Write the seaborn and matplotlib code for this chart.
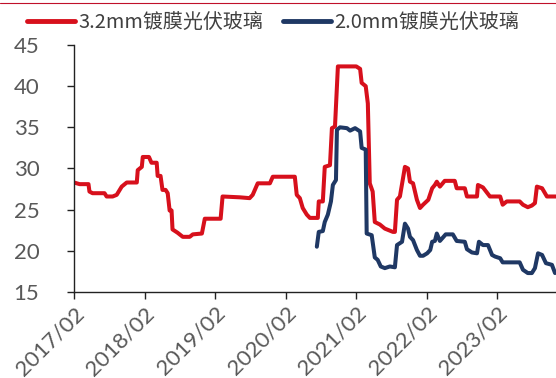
import pandas as pd
import matplotlib
matplotlib.use("Agg")
import matplotlib.pyplot as plt
import matplotlib.dates as mdates
from matplotlib.lines import Line2D
import seaborn as sns

# 3.2mm 镀膜光伏玻璃 价格 (元/平方米)
red_dates = ["2017-02-01", "2017-03-02", "2017-04-17", "2017-04-22", "2017-05-08", "2017-07-09",
             "2017-07-20", "2017-08-20", "2017-09-10", "2017-10-06", "2017-11-01", "2017-12-23",
             "2017-12-28", "2018-01-18", "2018-01-23", "2018-02-24", "2018-03-09", "2018-04-05",
             "2018-04-10", "2018-04-25", "2018-05-05", "2018-05-21", "2018-06-01", "2018-06-11",
             "2018-06-21", "2018-06-26", "2018-07-22", "2018-08-18", "2018-09-23", "2018-10-09",
             "2018-11-25", "2018-12-10", "2019-03-02", "2019-03-12", "2019-06-09", "2019-07-30",
             "2019-08-15", "2019-09-10", "2019-11-12", "2019-11-27", "2020-03-20", "2020-03-30",
             "2020-04-15", "2020-04-30", "2020-05-21", "2020-06-06", "2020-07-17", "2020-07-22",
             "2020-08-12", "2020-08-22", "2020-09-18", "2020-09-28", "2020-10-14", "2020-10-29",
             "2021-02-01", "2021-02-21", "2021-03-01", "2021-03-22", "2021-04-02", "2021-04-12",
             "2021-04-27", "2021-05-08", "2021-06-03", "2021-06-29", "2021-08-10", "2021-08-20",
             "2021-08-31", "2021-09-15", "2021-10-01", "2021-10-11", "2021-10-27", "2021-11-06",
             "2021-11-22", "2021-12-12", "2021-12-28", "2022-01-13", "2022-02-09", "2022-03-01",
             "2022-03-15", "2022-03-25", "2022-04-10", "2022-05-05", "2022-06-26", "2022-07-06",
             "2022-08-17", "2022-08-28", "2022-10-19", "2022-10-24", "2022-11-19", "2022-12-25",
             "2023-02-16", "2023-03-01", "2023-03-22", "2023-05-28", "2023-06-14", "2023-07-09",
             "2023-07-30", "2023-08-15", "2023-08-25", "2023-09-21", "2023-10-16", "2023-12-02"]
red_vals = [28.3, 28.1, 28.1, 27.2, 27.0, 27.0,
            26.6, 26.6, 26.8, 27.8, 28.3, 28.3,
            29.8, 30.2, 31.4, 31.4, 30.7, 30.7,
            29.1, 29.1, 27.4, 27.4, 27.0, 24.9,
            24.9, 22.6, 22.2, 21.7, 21.7, 22.0,
            22.1, 23.9, 23.9, 26.6, 26.5, 26.4,
            26.8, 28.2, 28.2, 29.0, 29.0, 26.8,
            26.4, 25.2, 24.4, 24.0, 24.0, 26.0,
            26.0, 30.2, 30.4, 34.9, 35.1, 42.4,
            42.4, 42.1, 40.4, 40.0, 37.9, 28.2,
            27.2, 23.5, 23.2, 22.7, 22.3, 22.3,
            26.2, 26.6, 28.8, 30.2, 30.0, 28.4,
            28.2, 26.2, 25.2, 25.6, 26.2, 27.6,
            28.0, 28.4, 27.8, 28.5, 28.5, 27.6,
            27.6, 26.6, 26.6, 28.0, 27.7, 26.6,
            26.6, 25.6, 26.0, 26.0, 25.6, 25.3,
            25.5, 25.8, 27.8, 27.6, 26.6, 26.6]

# 2.0mm 镀膜光伏玻璃
blue_dates = ["2020-07-12", "2020-07-22", "2020-08-12", "2020-08-22", "2020-09-07", "2020-09-23",
              "2020-10-03", "2020-10-19", "2020-10-24", "2020-11-09", "2020-12-15", "2020-12-31",
              "2021-01-26", "2021-02-21", "2021-03-01", "2021-03-22", "2021-03-27", "2021-04-22",
              "2021-05-08", "2021-05-23", "2021-06-08", "2021-06-29", "2021-07-25", "2021-08-20",
              "2021-08-31", "2021-09-26", "2021-10-11", "2021-10-27", "2021-11-06", "2021-11-22",
              "2021-12-12", "2021-12-28", "2022-01-13", "2022-02-03", "2022-02-19", "2022-03-01",
              "2022-03-15", "2022-03-25", "2022-04-10", "2022-05-10", "2022-06-16", "2022-07-06",
              "2022-08-17", "2022-08-28", "2022-09-23", "2022-10-19", "2022-10-29", "2022-11-19",
              "2022-12-15", "2023-01-05", "2023-01-21", "2023-02-16", "2023-03-01", "2023-05-28",
              "2023-06-14", "2023-07-09", "2023-07-30", "2023-08-15", "2023-08-31", "2023-09-21",
              "2023-10-11", "2023-11-11", "2023-11-27"]
blue_vals = [20.5, 22.3, 22.4, 23.5, 24.4, 26.0,
             28.0, 28.6, 34.7, 35.0, 34.9, 34.6,
             34.9, 34.5, 32.5, 32.3, 22.1, 21.9,
             19.2, 18.9, 18.1, 17.9, 18.1, 18.0,
             20.7, 21.1, 23.3, 22.7, 21.7, 21.3,
             20.1, 19.4, 19.4, 19.7, 20.1, 21.1,
             21.2, 22.1, 21.2, 22.0, 22.0, 21.2,
             21.1, 20.2, 19.8, 19.7, 21.1, 20.7,
             20.7, 19.5, 19.3, 19.1, 18.6, 18.6,
             17.7, 17.3, 17.3, 17.9, 19.7, 19.5,
             18.5, 18.3, 17.3]

series_names = ["3.2mm镀膜光伏玻璃", "2.0mm镀膜光伏玻璃"]
colors = ["#D7101C", "#1F3864"]
y_ticks = [15, 20, 25, 30, 35, 40, 45]
x_ticks = ["2017-02-01", "2018-02-01", "2019-02-01", "2020-02-01",
           "2021-02-01", "2022-02-01", "2023-02-01"]

df = pd.concat([
    pd.DataFrame({"date": pd.to_datetime(red_dates), "price": red_vals, "series": series_names[0]}),
    pd.DataFrame({"date": pd.to_datetime(blue_dates), "price": blue_vals, "series": series_names[1]}),
])

sns.set_style("ticks")
plt.rcParams["font.family"] = ["Lato", "DejaVu Sans"]

fig = plt.figure(figsize=(5.56, 3.78), dpi=100)
ax = fig.add_axes([74 / 556, 1 - 292 / 378, 1 - 74 / 556, (292 - 45) / 378])

sns.lineplot(data=df, x="date", y="price", hue="series", hue_order=series_names,
             palette=colors, linewidth=2.9, estimator=None, sort=False, ax=ax, legend=False)

ax.set_xlim(pd.Timestamp("2017-02-01"), pd.Timestamp("2023-12-02"))
ax.set_ylim(15, 45)
ax.set_yticks(y_ticks)
ax.set_xticks(pd.to_datetime(x_ticks))
ax.xaxis.set_major_formatter(mdates.DateFormatter("%Y/%m"))
ax.set_xlabel("")
ax.set_ylabel("")

for s in ["top", "right"]:
    ax.spines[s].set_visible(False)
for s in ["left", "bottom"]:
    ax.spines[s].set_color("#222222")
    ax.spines[s].set_linewidth(1.0)

ax.tick_params(axis="both", direction="out", length=5, width=1.0, color="#222222",
               labelcolor="#595959")
ax.tick_params(axis="y", labelsize=16, pad=20)
ax.tick_params(axis="x", labelsize=16, pad=3)
for lbl in ax.get_xticklabels():
    lbl.set_rotation(45)
    lbl.set_ha("right")
    lbl.set_va("top")
    lbl.set_rotation_mode("anchor")

handles = [Line2D([], [], color=c, linewidth=3.5) for c in colors]
leg = fig.legend(handles, series_names, loc="center left",
                 bbox_to_anchor=(27 / 556, 1 - 22 / 378), ncol=2, frameon=False,
                 handlelength=2.4, handletextpad=0.15, columnspacing=1.0,
                 borderaxespad=0, borderpad=0,
                 prop={"family": ["Noto Sans CJK SC", "DejaVu Sans"], "size": 14.4})
for t in leg.get_texts():
    t.set_color("#404040")

# thin red rule across the top of the page
fig.add_artist(Line2D([0, 1], [1 - 2.5 / 378, 1 - 2.5 / 378], color="#C0102A",
                      linewidth=0.8, transform=fig.transFigure))

fig.savefig("out.png", dpi=100)
